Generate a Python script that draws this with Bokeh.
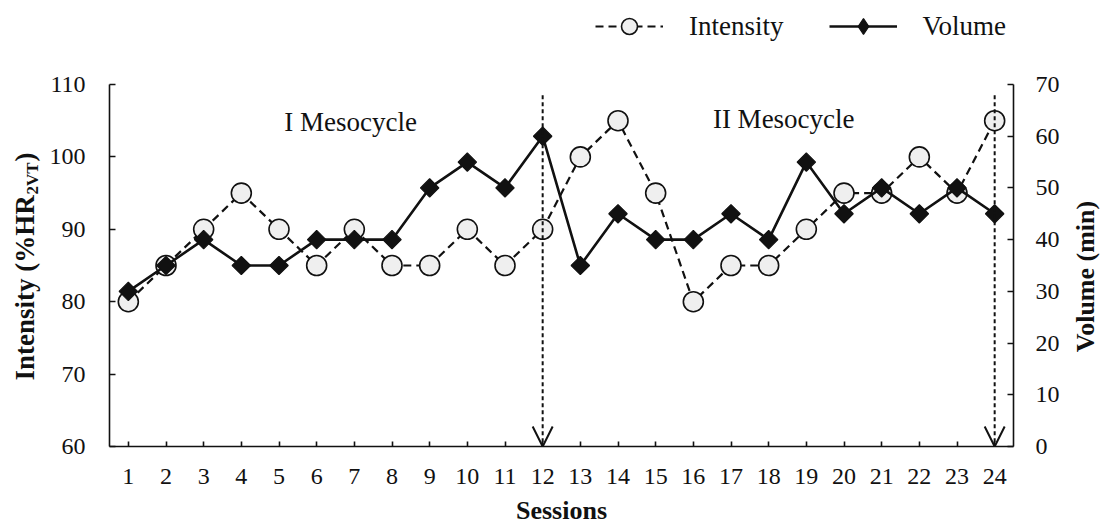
import numpy as np
from bokeh.plotting import figure
from bokeh.layouts import row
from bokeh.models import (Range1d, LinearAxis, FixedTicker, Label, Arrow, OpenHead,
                          Legend, LegendItem, ColumnDataSource)
from bokeh.embed import file_html
from bokeh.resources import INLINE

# Training sessions and their load parameters
sessions = list(range(1, 25))
intensity = [80, 85, 90, 95, 90, 85, 90, 85, 85, 90, 85, 90,
             100, 105, 95, 80, 85, 85, 90, 95, 95, 100, 95, 105]
volume = [30, 35, 40, 35, 35, 40, 40, 40, 50, 55, 50, 60,
          35, 45, 40, 40, 45, 40, 55, 45, 50, 45, 50, 45]
intensity_ticks = [60, 70, 80, 90, 100, 110]
volume_ticks = [0, 10, 20, 30, 40, 50, 60, 70]
mesocycle_ends = [12, 24]
mesocycle_names = ["I Mesocycle", "II Mesocycle"]
mesocycle_label_pos = [(6.9, 104.8), (18.4, 105.3)]

FONT = "Liberation Serif"
INK = "#111111"
W, H = 1101, 527
LEFT_W, RIGHT_W = 46, 34          # strips holding the rotated axis titles
FRAME_TOP, FRAME_BOTTOM = 84, 446  # pixel rows of the 110 / 60 gridlines

# The plotting frame runs to the top edge of the page so that the legend and
# the mesocycle notes can live inside it; the axes are bounded to their data.
px_per_int = (FRAME_BOTTOM - FRAME_TOP) / (110 - 60)
px_per_vol = (FRAME_BOTTOM - FRAME_TOP) / (70 - 0)
int_range = Range1d(60, 110 + FRAME_TOP / px_per_int)
vol_range = Range1d(0, 70 + FRAME_TOP / px_per_vol)


def strip(width):
    f = figure(width=width, height=H, output_backend="svg", toolbar_location=None,
               x_range=Range1d(0, width), y_range=int_range,
               x_axis_location=None, y_axis_location=None, min_border=0,
               min_border_bottom=H - FRAME_BOTTOM)
    f.outline_line_color = None
    f.xgrid.visible = False
    f.ygrid.visible = False
    return f


def px_to_int(ypx):
    return 60 + (FRAME_BOTTOM - ypx) / px_per_int


# Left axis title, with subscript
left = strip(LEFT_W)
title_bits = [("Intensity (%HR", 24, 380, "27px"),
              ("2VT", 32, 194, "17px"),
              (")", 24, 161, "27px")]
for txt, lx, ypx, fs in title_bits:
    left.add_layout(Label(x=lx, y=px_to_int(ypx), text=txt, angle=np.pi / 2,
                          text_font=FONT, text_font_style="bold",
                          text_font_size=fs, text_color=INK, text_align="left",
                          text_baseline="middle"))

# Right axis title
right = strip(RIGHT_W)
right.add_layout(Label(x=18, y=px_to_int(276), text="Volume (min)", angle=np.pi / 2,
                       text_font=FONT, text_font_style="bold",
                       text_font_size="26px", text_color=INK,
                       text_align="center", text_baseline="middle"))

p = figure(width=W - LEFT_W - RIGHT_W, height=H, output_backend="svg",
           toolbar_location=None, x_range=Range1d(0.5, 24.5), y_range=int_range,
           min_border_left=107 - LEFT_W, min_border_right=88 - RIGHT_W,
           min_border_top=0, min_border_bottom=H - FRAME_BOTTOM)
p.outline_line_color = None
p.xgrid.visible = False
p.ygrid.visible = False

p.extra_y_ranges = {"vol": vol_range}
right_axis = LinearAxis(y_range_name="vol")
p.add_layout(right_axis, "right")


def style_axis(ax, ticks, standoff):
    ax.ticker = FixedTicker(ticks=ticks)
    ax.axis_line_width = 1.6
    ax.axis_line_color = INK
    ax.major_tick_line_width = 1.6
    ax.major_tick_line_color = INK
    ax.major_tick_in = 6
    ax.major_tick_out = 0
    ax.minor_tick_in = 0
    ax.minor_tick_out = 0
    ax.major_label_text_font = FONT
    ax.major_label_text_font_size = "24px"
    ax.major_label_text_color = INK
    ax.major_label_standoff = standoff


style_axis(p.yaxis[0], intensity_ticks, 24)
p.yaxis[0].bounds = (intensity_ticks[0], intensity_ticks[-1])
style_axis(right_axis, volume_ticks, 22)
right_axis.bounds = (volume_ticks[0], volume_ticks[-1])
style_axis(p.xaxis[0], sessions, 22)
p.xaxis[0].major_tick_in = 5
p.xaxis[0].axis_label = "Sessions"
p.xaxis[0].axis_label_text_font = FONT
p.xaxis[0].axis_label_text_font_style = "bold"
p.xaxis[0].axis_label_text_font_size = "26px"
p.xaxis[0].axis_label_text_color = INK
p.xaxis[0].axis_label_standoff = 9

src = ColumnDataSource(dict(x=sessions, inten=intensity, vol=volume))

# Intensity series (left scale)
int_line = p.line("x", "inten", source=src, line_color=INK, line_width=2.2,
                  line_dash="8 5")
int_pts = p.scatter("x", "inten", source=src, marker="circle", size=20,
                    fill_color="#efefef", line_color=INK, line_width=1.6)

# Volume series (right scale)
vol_line = p.line("x", "vol", source=src, y_range_name="vol", line_color=INK,
                  line_width=2.6)
vol_pts = p.scatter("x", "vol", source=src, y_range_name="vol", marker="square",
                    angle=np.pi / 4, size=13, fill_color=INK, line_color=INK,
                    line_width=1.2)
# hidden twin used only for the legend key (legend keys are drawn unrotated)
vol_key = p.scatter("x", "vol", source=src, y_range_name="vol", marker="diamond",
                    fill_color=INK, line_color=INK, line_width=1.2, visible=False)

# End-of-mesocycle markers
for xe in mesocycle_ends:
    p.add_layout(Arrow(x_start=xe, y_start=108.5, x_end=xe, y_end=60,
                       line_color=INK, line_width=2, line_dash="4 3",
                       end=OpenHead(size=20, line_width=2, line_color=INK)))

for name, (lx, ly) in zip(mesocycle_names, mesocycle_label_pos):
    p.add_layout(Label(x=lx, y=ly, text=name, text_font=FONT,
                       text_font_size="27px", text_color=INK,
                       text_align="center", text_baseline="middle"))

legend = Legend(items=[LegendItem(label="Intensity", renderers=[int_line, int_pts]),
                       LegendItem(label="Volume", renderers=[vol_line, vol_key])],
                orientation="horizontal", location=(486, 400),
                glyph_width=68, glyph_height=40, label_standoff=26, spacing=45,
                padding=0, margin=0, border_line_alpha=0,
                background_fill_alpha=0, inactive_fill_alpha=0,
                label_text_font=FONT, label_text_font_size="27px",
                label_text_color=INK)
p.add_layout(legend, "center")

layout = row(left, p, right, spacing=0)
open("out.html", "w").write(file_html(layout, INLINE))
